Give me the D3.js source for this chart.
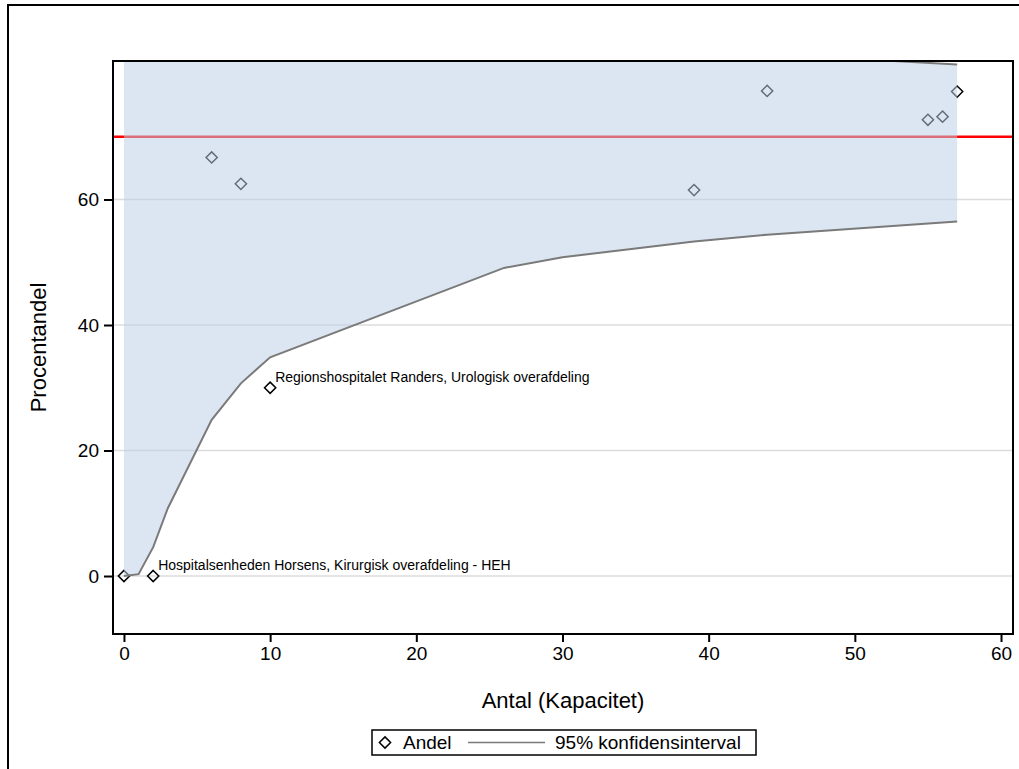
<!DOCTYPE html>
<html>
  <head>
    <meta charset="utf-8">
    <title>Andel efter antal</title>
    <script src="https://d3js.org/d3.v7.min.js"></script>
    <style>
      body { margin: 0; background: #fff; }
      svg { font-family: "Liberation Sans", Arial, sans-serif; }
      .tick text { font-size: 19px; fill: #000; }
      .tick line, .domain { stroke: #000; }
    </style>
  </head>
  <body>
    <svg id="svg" width="1019" height="769"></svg>
    <script>
      // data
      var antal = [0, 2, 6, 8, 10, 39, 44, 55, 56, 57];
      var andel = [0, 0, 66.7, 62.5, 30, 61.5, 77.3, 72.7, 73.2, 77.2];
      var ciN = [0, 1, 2, 3, 6, 8, 10, 26, 30, 39, 44, 57];
      var ciLower = [0, 0.3, 4.6, 10.8, 24.9, 30.7, 34.85, 49.1, 50.8, 53.3, 54.4, 56.5];
      var ciUpper = [100, 100, 100, 100, 97, 95, 93, 87.5, 86.5, 84.3, 83.2, 81.5];
      var target = 70;
      var xTicks = [0, 10, 20, 30, 40, 50, 60];
      var yTicks = [0, 20, 40, 60];
      var labelN = [2, 10];
      var labelText = ["Hospitalsenheden Horsens, Kirurgisk overafdeling - HEH",
                       "Regionshospitalet Randers, Urologisk overafdeling"];

      // layout
      var plotLeft = 113, plotTop = 61, width = 900, height = 573;
      var svg = d3.select("#svg");

      // outer frame (runs off the right and bottom edge)
      svg.append("rect")
        .attr("x", 8).attr("y", 5)
        .attr("width", 1040).attr("height", 800)
        .attr("fill", "none").attr("stroke", "#000").attr("stroke-width", 2);

      var x = d3.scaleLinear().domain([-0.75, 60.82]).range([0, width]);
      var y = d3.scaleLinear().domain([-9.24, 82.07]).range([height, 0]);

      var g = svg.append("g").attr("transform", "translate(" + plotLeft + "," + plotTop + ")");

      svg.append("defs").append("clipPath").attr("id", "clip")
        .append("rect").attr("width", width).attr("height", height);

      var plot = g.append("g").attr("clip-path", "url(#clip)");

      // gridlines
      plot.selectAll(".grid")
          .data(yTicks)
        .enter().append("line")
          .attr("x1", 0).attr("x2", width)
          .attr("y1", function(d) { return y(d); })
          .attr("y2", function(d) { return y(d); })
          .attr("stroke", "#dcdcdc").attr("stroke-width", 1.5);

      // reference line
      plot.append("line")
        .attr("x1", 0).attr("x2", width)
        .attr("y1", y(target)).attr("y2", y(target))
        .attr("stroke", "#ff0000").attr("stroke-width", 2.5);

      // points
      var diamond = d3.symbol().type(d3.symbolDiamond2).size(80);
      plot.selectAll(".pt")
          .data(antal)
        .enter().append("path")
          .attr("d", diamond)
          .attr("transform", function(d, i) { return "translate(" + x(d) + "," + y(andel[i]) + ")"; })
          .attr("fill", "none").attr("stroke", "#000").attr("stroke-width", 1.5);

      // confidence band
      var band = d3.area()
        .x(function(d) { return x(d); })
        .y0(function(d, i) { return y(ciLower[i]); })
        .y1(function(d, i) { return y(ciUpper[i]); });
      plot.append("path")
        .attr("d", band(ciN))
        .attr("fill", "rgb(189,208,230)").attr("fill-opacity", 0.53);

      var lower = d3.line().x(function(d) { return x(d); }).y(function(d, i) { return y(ciLower[i]); });
      var upper = d3.line().x(function(d) { return x(d); }).y(function(d, i) { return y(ciUpper[i]); });
      plot.append("path").attr("d", lower(ciN))
        .attr("fill", "none").attr("stroke", "#7a7a7a").attr("stroke-width", 2);
      plot.append("path").attr("d", upper(ciN))
        .attr("fill", "none").attr("stroke", "#7a7a7a").attr("stroke-width", 2);

      // labels
      plot.selectAll(".lbl")
          .data(labelN)
        .enter().append("text")
          .attr("x", function(d) { return x(d) + 5; })
          .attr("y", function(d) { return y(andel[antal.indexOf(d)]) - 6; })
          .attr("font-size", 14)
          .text(function(d, i) { return labelText[i]; });

      // frame
      g.append("rect")
        .attr("width", width).attr("height", height)
        .attr("fill", "none").attr("stroke", "#000").attr("stroke-width", 2);

      // axes
      var xAxis = g.append("g")
        .attr("transform", "translate(0," + height + ")")
        .call(d3.axisBottom(x).tickValues(xTicks).tickSize(8).tickPadding(5));
      var yAxis = g.append("g")
        .call(d3.axisLeft(y).tickValues(yTicks).tickSize(9).tickPadding(5));
      [xAxis, yAxis].forEach(function(a) {
        a.select(".domain").remove();
        a.selectAll(".tick line").attr("stroke-width", 2);
        a.selectAll("text").attr("font-family", null);
      });

      // axis titles
      svg.append("text")
        .attr("x", plotLeft + width / 2).attr("y", 708)
        .attr("text-anchor", "middle").attr("font-size", 22)
        .text("Antal (Kapacitet)");
      svg.append("text")
        .attr("transform", "translate(38," + (plotTop + height / 2) + ") rotate(-90)")
        .attr("text-anchor", "middle").attr("dy", "0.35em").attr("font-size", 22)
        .text("Procentandel");

      // legend
      var legend = svg.append("g").attr("transform", "translate(372,730)");
      legend.append("rect")
        .attr("width", 384).attr("height", 25)
        .attr("fill", "#fff").attr("stroke", "#000").attr("stroke-width", 1.5);
      legend.append("path")
        .attr("d", diamond)
        .attr("transform", "translate(13,12.5)")
        .attr("fill", "none").attr("stroke", "#000").attr("stroke-width", 1.5);
      legend.append("text").attr("x", 31).attr("y", 19).attr("font-size", 19).text("Andel");
      legend.append("line")
        .attr("x1", 96).attr("x2", 173).attr("y1", 12.5).attr("y2", 12.5)
        .attr("stroke", "#7a7a7a").attr("stroke-width", 1.5);
      legend.append("text").attr("x", 183).attr("y", 19).attr("font-size", 19).text("95% konfidensinterval");
    </script>
  </body>
</html>
